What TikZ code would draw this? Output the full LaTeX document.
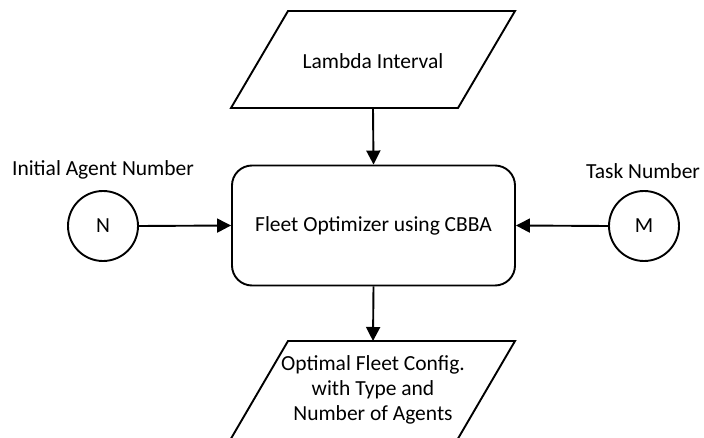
\documentclass[tikz,border=0pt]{standalone}
\usepackage{fontspec}
\setmainfont{Carlito}
\usetikzlibrary{arrows.meta}
\begin{document}
\begin{tikzpicture}[x=1pt,y=-1pt,
  line width=1.9pt,
  txt/.style={font=\fontsize{21.5}{25}\selectfont, inner sep=0pt},
  conn/.style={-{Triangle[length=14pt,width=14pt]}, line width=1.9pt},
  procbox/.style={draw, rounded corners=20pt, minimum width=283pt, minimum height=120pt, inner sep=0pt, font=\fontsize{21.5}{25}\selectfont},
  varcirc/.style={draw, circle, minimum size=70pt, inner sep=0pt, font=\fontsize{21.5}{25}\selectfont}]
\useasboundingbox (0,0) rectangle (704,438);
% top parallelogram
\draw (288,11) -- (515,11) -- (458,108) -- (231,108) -- cycle;
\node[txt] (lam) at (373,61) {Lambda Interval};
\coordinate (lamb) at (373,108);
% process
\node[procbox] (fo) at (373.5,225.5) {Fleet Optimizer using CBBA};
% circles
\node[varcirc] (n) at (103,226) {N};
\node[varcirc] (m) at (644,226) {M};
\node[txt] (nl) at (103,170) {Initial Agent Number};
\node[txt] (ml) at (643,171) {Task Number};
% bottom parallelogram
\draw (288,341) -- (515,341) -- (456,442) -- (229,442) -- cycle;
\coordinate (optt) at (373,341);
\node[txt, align=center] (opt) at (373,390) {Optimal Fleet Config.\\with Type and\\Number of Agents};
% connectors
\draw[conn] (lamb) -- (fo.north);
\draw[conn] (n.east) -- (fo.west);
\draw[conn] (m.west) -- (fo.east);
\draw[conn] (fo.south) -- (optt);
\end{tikzpicture}
\end{document}
